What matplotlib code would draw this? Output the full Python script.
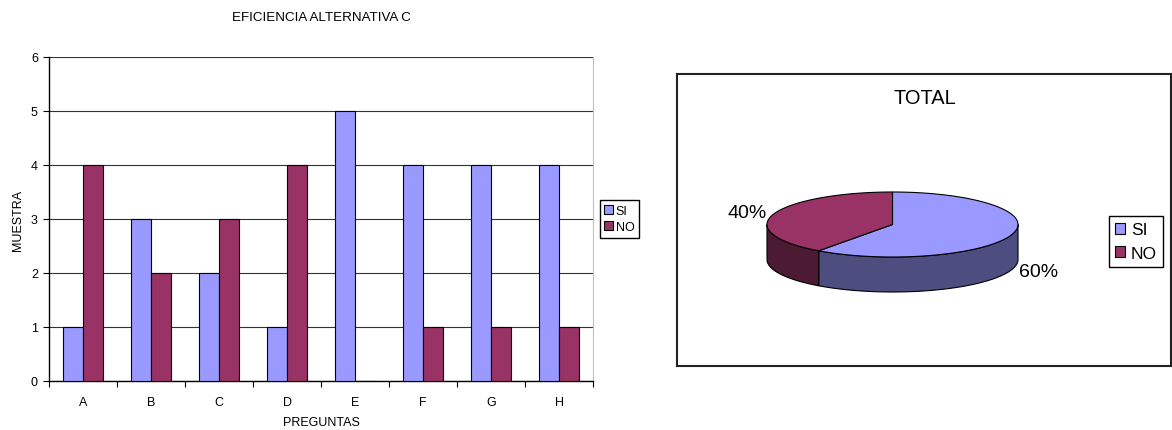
import matplotlib
matplotlib.use("Agg")
import matplotlib.pyplot as plt
from matplotlib.patches import Polygon, Patch
import numpy as np

# datos de la grafica de barras
preguntas = ["A", "B", "C", "D", "E", "F", "G", "H"]
si = [1, 3, 2, 1, 5, 4, 4, 4]
no = [4, 2, 3, 4, 0, 1, 1, 1]

# datos del pastel
total_labels = ["SI", "NO"]
total_valores = [60, 40]

COLOR_SI = "#9999FF"
COLOR_NO = "#993366"
LADO_SI = "#4D4D80"
LADO_NO = "#4D1A33"

plt.rcParams["font.family"] = ["Liberation Sans", "DejaVu Sans"]

W, H = 1172, 431
fig = plt.figure(figsize=(W / 100, H / 100), dpi=100)


def caja(x0, y0, x1, y1):
    # rectangulo en pixeles -> coordenadas de figura
    return [x0 / W, 1 - y1 / H, (x1 - x0) / W, (y1 - y0) / H]


# ---- barras ----
ax = fig.add_axes(caja(49, 58, 593, 382))
x = np.arange(len(preguntas))
ancho = 0.29
ax.bar(x - ancho / 2, si, ancho, color=COLOR_SI, edgecolor="black", linewidth=0.8, label="SI", zorder=3)
ax.bar(x + ancho / 2, no, ancho, color=COLOR_NO, edgecolor="black", linewidth=0.8, label="NO", zorder=3)
ax.set_xlim(-0.5, len(preguntas) - 0.5)
ax.set_ylim(0, 6)
ax.set_yticks(range(7))
ax.set_xticks(x)
ax.set_xticklabels(preguntas)
ax.set_xticks(np.arange(-0.5, len(preguntas)), minor=True)
ax.tick_params(axis="x", which="major", length=0, pad=11, labelsize=9)
ax.tick_params(axis="x", which="minor", length=4, width=0.8, direction="out")
ax.tick_params(axis="y", length=4, width=0.8, pad=4, labelsize=9)
ax.yaxis.grid(True, color="#333333", linewidth=0.8)
ax.set_axisbelow(True)
ax.spines["top"].set_visible(False)
ax.spines["right"].set_color("#c0c0c0")
ax.spines["left"].set_linewidth(1)
ax.spines["bottom"].set_linewidth(1)
ax.set_xlabel("PREGUNTAS", fontsize=9, va="center")
ax.set_ylabel("MUESTRA", fontsize=9, va="center")
ax.xaxis.set_label_coords(0.5, -(423 - 382) / 324)
ax.yaxis.set_label_coords(-(49 - 18) / 544, 0.5)
fig.text(321 / W, 1 - 18 / H, "EFICIENCIA ALTERNATIVA C", fontsize=9.6, ha="center", va="center")
fig.legend(loc="center left", bbox_to_anchor=(600 / W, 1 - 220 / H), fontsize=9,
           frameon=True, fancybox=False, edgecolor="black", framealpha=1,
           handlelength=0.7, handleheight=0.7, handletextpad=0.2,
           borderpad=0.35, labelspacing=0.35, borderaxespad=0)

# ---- pastel 3D ----
axp = fig.add_axes(caja(677, 75, 1171, 367))
axp.set_xlim(677, 1171)
axp.set_ylim(367, 75)
axp.set_xticks([])
axp.set_yticks([])
for s in axp.spines.values():
    s.set_linewidth(1.5)
    s.set_color("#222222")

cx, cy, a, b, prof = 892.5, 225.5, 125.5, 32.5, 35


def arco(t1, t2, dy=0):
    t = np.radians(np.linspace(t1, t2, 120))
    return np.column_stack([cx + a * np.cos(t), cy - b * np.sin(t) + dy])


frac = np.array(total_valores) / sum(total_valores)
bordes = 90 - 360 * np.concatenate([[0], np.cumsum(frac)])
caras = [COLOR_SI, COLOR_NO]
lados = [LADO_SI, LADO_NO]

# lados visibles primero
for i in range(len(total_valores)):
    lo, hi = bordes[i + 1], bordes[i]
    for k in (-1, 0, 1):
        lo2 = max(lo, -180 + 360 * k)
        hi2 = min(hi, 360 * k)
        if hi2 > lo2:
            arriba = arco(lo2, hi2)
            abajo = arco(lo2, hi2, prof)[::-1]
            axp.add_patch(Polygon(np.vstack([arriba, abajo]), closed=True, facecolor=lados[i],
                                  edgecolor="black", linewidth=0.8, zorder=1))

# caras superiores
for i in range(len(total_valores)):
    lo, hi = bordes[i + 1], bordes[i]
    pts = np.vstack([[cx, cy], arco(hi, lo)])
    axp.add_patch(Polygon(pts, closed=True, facecolor=caras[i], edgecolor="black",
                          linewidth=0.8, zorder=2))
    medio = np.radians((lo + hi) / 2)
    tx = cx + 1.22 * a * np.cos(medio)
    ty = cy - 1.2 * b * np.sin(medio) + (prof if np.sin(medio) < 0 else 0)
    axp.text(tx, ty, "%d%%" % round(frac[i] * 100), fontsize=14, ha="center", va="center")

axp.text(925, 99, "TOTAL", fontsize=14.4, ha="center", va="center")
manijas = [Patch(facecolor=c, edgecolor="black", linewidth=0.8) for c in caras]
axp.legend(manijas, total_labels, loc="center left", bbox_to_anchor=(1109, 242.5),
           bbox_transform=axp.transData, fontsize=12.5, frameon=True, fancybox=False,
           edgecolor="black", framealpha=1, handlelength=0.6, handleheight=0.6,
           handletextpad=0.3, borderpad=0.35, labelspacing=0.5, borderaxespad=0)

fig.savefig("out.png", dpi=100)
plt.close()
